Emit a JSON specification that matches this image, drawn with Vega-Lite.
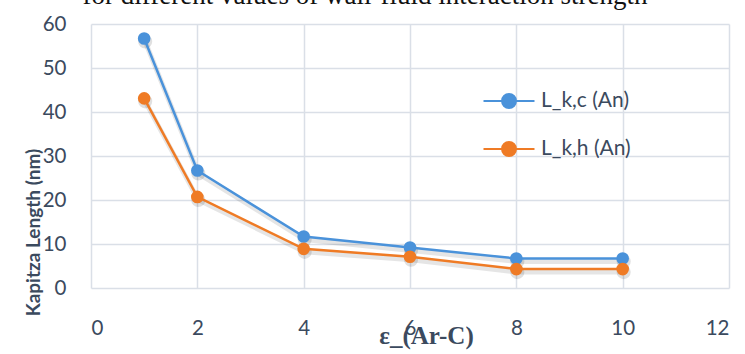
{
  "$schema": "https://vega.github.io/schema/vega-lite/v6.json",
  "autosize": {"type": "none"},
  "width": 638,
  "height": 264,
  "padding": {"left": 91, "top": 24, "right": 16, "bottom": 66},
  "background": "#ffffff",
  "title": {
    "text": "for different values of wall-fluid interaction strength",
    "font": "Liberation Serif",
    "fontSize": 27,
    "fontWeight": "normal",
    "color": "#111111",
    "anchor": "middle",
    "frame": "group",
    "baseline": "alphabetic",
    "offset": 4,
    "dx": -45,
    "dy": 21
  },
  "data": {
    "values": [
      {"eps": 1, "series": "L_k,c (An)", "L": 56.7},
      {"eps": 2, "series": "L_k,c (An)", "L": 26.7},
      {"eps": 4, "series": "L_k,c (An)", "L": 11.7},
      {"eps": 6, "series": "L_k,c (An)", "L": 9.2},
      {"eps": 8, "series": "L_k,c (An)", "L": 6.7},
      {"eps": 10, "series": "L_k,c (An)", "L": 6.7},
      {"eps": 1, "series": "L_k,h (An)", "L": 43.1},
      {"eps": 2, "series": "L_k,h (An)", "L": 20.7},
      {"eps": 4, "series": "L_k,h (An)", "L": 8.9},
      {"eps": 6, "series": "L_k,h (An)", "L": 7.1},
      {"eps": 8, "series": "L_k,h (An)", "L": 4.3},
      {"eps": 10, "series": "L_k,h (An)", "L": 4.3}
    ]
  },
  "encoding": {
    "x": {
      "field": "eps",
      "type": "quantitative",
      "scale": {"domain": [0, 12], "nice": false},
      "axis": {
        "values": [0, 2, 4, 6, 8, 10, 12],
        "title": "ε_(Ar-C)",
        "titleFont": "Liberation Serif",
        "titleFontWeight": "bold",
        "titleFontSize": 25,
        "titleColor": "#3B4A5E",
        "titleX": 335,
        "titleY": 55,
        "titleAlign": "center",
        "titleBaseline": "alphabetic",
        "labelPadding": 40,
        "labelBaseline": "middle"
      }
    },
    "y": {
      "field": "L",
      "type": "quantitative",
      "scale": {"domain": [0, 60], "nice": false},
      "axis": {
        "values": [0, 10, 20, 30, 40, 50, 60],
        "title": "Kapitza Length (nm)",
        "titleFont": "Lato",
        "titleFontWeight": "bold",
        "titleFontSize": 19,
        "titleColor": "#3B4A5E",
        "titleAngle": -90,
        "titleX": -58,
        "titleY": 208,
        "titleAlign": "center",
        "titleBaseline": "middle",
        "labelPadding": 25
      }
    },
    "color": {
      "field": "series",
      "type": "nominal",
      "scale": {"domain": ["L_k,c (An)", "L_k,h (An)"], "range": ["#4A92DA", "#EF7B25"]},
      "legend": {
        "title": null,
        "orient": "none",
        "legendX": 391,
        "legendY": 50,
        "symbolType": "M-1,0L1,0M0.27,0A0.27,0.27,0,1,1,-0.27,0A0.27,0.27,0,1,1,0.27,0Z",
        "symbolSize": 2600,
        "symbolStrokeWidth": 2.2,
        "labelFont": "Lato",
        "labelFontSize": 21,
        "labelColor": "#3B4A5E",
        "labelOffset": 5,
        "rowPadding": 9,
        "padding": 0,
        "encode": {
          "symbols": {
            "update": {
              "fill": {"scale": "color", "field": "value"},
              "stroke": {"scale": "color", "field": "value"},
              "fillOpacity": {"value": 1}
            }
          }
        }
      }
    }
  },
  "layer": [
    {
      "mark": {"type": "line", "strokeWidth": 5, "color": "#000000", "opacity": 0.1, "xOffset": 1, "yOffset": 3},
      "encoding": {"detail": {"field": "series", "type": "nominal"}, "color": {"value": "#000000"}}
    },
    {
      "mark": {"type": "point", "filled": true, "size": 200, "color": "#000000", "opacity": 0.12, "xOffset": 1, "yOffset": 3},
      "encoding": {"color": {"value": "#000000"}}
    },
    {
      "mark": {"type": "line", "strokeWidth": 2.5}
    },
    {
      "mark": {"type": "point", "filled": true, "size": 160, "opacity": 1, "shape": "circle"}
    }
  ],
  "config": {
    "view": {"stroke": null},
    "axis": {
      "grid": true,
      "gridColor": "#DADFE7",
      "gridWidth": 1.5,
      "domain": false,
      "ticks": false,
      "labelFont": "Lato",
      "labelFontSize": 20.5,
      "labelColor": "#3B4A5E"
    }
  }
}
